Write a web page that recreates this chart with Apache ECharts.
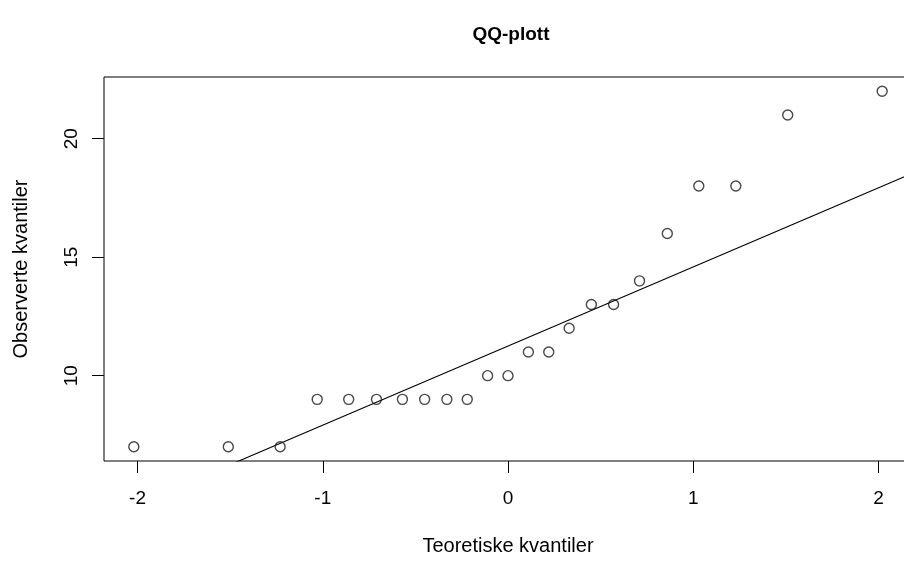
<!DOCTYPE html>
<html>
<head>
<meta charset="utf-8">
<script src="https://cdn.jsdelivr.net/npm/echarts@6/dist/echarts.min.js"></script>
<style>
html,body{margin:0;padding:0;background:#fff;overflow:hidden;width:904px;height:561px;}
#chart{width:920px;height:561px;}
</style>
</head>
<body>
<div id="chart"></div>
<script>
var theoretical = [-2.02,-1.51,-1.23,-1.03,-0.86,-0.71,-0.57,-0.45,-0.33,-0.22,-0.11,0,0.11,0.22,0.33,0.45,0.57,0.71,0.86,1.03,1.23,1.51,2.02];
var observed = [7,7,7,9,9,9,9,9,9,9,10,10,11,11,12,13,13,14,16,18,18,21,22];
// Reference line endpoints (qqline)
var lineX = [-2.181, 2.181];
var lineY = [3.97, 18.53];
// Axis ranges and tick labels
var xRange = [-2.181, 2.181];
var yRange = [6.4, 22.6];
var xTicks = [-2, -1, 0, 1, 2];
var yTicks = [10, 15, 20];
var titleText = 'QQ-plott';
var xName = 'Teoretiske kvantiler';
var yName = 'Observerte kvantiler';

var FONT = '"Liberation Sans", Arial, Helvetica, sans-serif';
var points = theoretical.map(function (x, i) { return [x, observed[i]]; });
var linePts = lineX.map(function (x, i) { return [x, lineY[i]]; });

var chart = echarts.init(document.getElementById('chart'), null, {renderer: 'canvas'});
chart.setOption({
  animation: false,
  backgroundColor: '#fff',
  title: {
    text: titleText,
    left: 506,
    top: 20,
    textAlign: 'center',
    textStyle: {fontFamily: FONT, fontSize: 19, fontWeight: 'bold', color: '#000'}
  },
  grid: {
    left: 104, right: 8, top: 77, bottom: 95,
    show: true, borderColor: '#000', borderWidth: 1, backgroundColor: 'transparent'
  },
  xAxis: {
    type: 'value',
    min: xRange[0], max: xRange[1],
    name: xName, nameLocation: 'middle', nameGap: 75,
    nameTextStyle: {fontFamily: FONT, fontSize: 20, color: '#000'},
    axisLine: {show: false, onZero: false},
    splitLine: {show: false},
    axisTick: {show: true, inside: false, length: 12, customValues: xTicks, lineStyle: {color: '#000', width: 1}},
    axisLabel: {customValues: xTicks, margin: 28, fontFamily: FONT, fontSize: 19, color: '#000',
      formatter: function (v) { return String(v); }}
  },
  yAxis: {
    type: 'value',
    min: yRange[0], max: yRange[1],
    name: yName, nameLocation: 'middle', nameGap: 73, nameRotate: 90,
    nameTextStyle: {fontFamily: FONT, fontSize: 20, color: '#000'},
    axisLine: {show: false, onZero: false},
    splitLine: {show: false},
    axisTick: {show: true, inside: false, length: 12, customValues: yTicks, lineStyle: {color: '#000', width: 1}},
    axisLabel: {customValues: yTicks, rotate: 90, margin: 23, fontFamily: FONT, fontSize: 19, color: '#000',
      formatter: function (v) { return String(v); }}
  },
  series: [
    {
      type: 'line',
      data: linePts,
      symbol: 'none',
      clip: true,
      lineStyle: {color: '#000', width: 1.1},
      silent: true,
      z: 2
    },
    {
      type: 'scatter',
      data: points,
      symbol: 'circle',
      symbolSize: 10,
      itemStyle: {color: 'rgba(255,255,255,0)', borderColor: '#1a1a1a', borderWidth: 1.4},
      z: 3
    }
  ]
});
</script>
</body>
</html>
